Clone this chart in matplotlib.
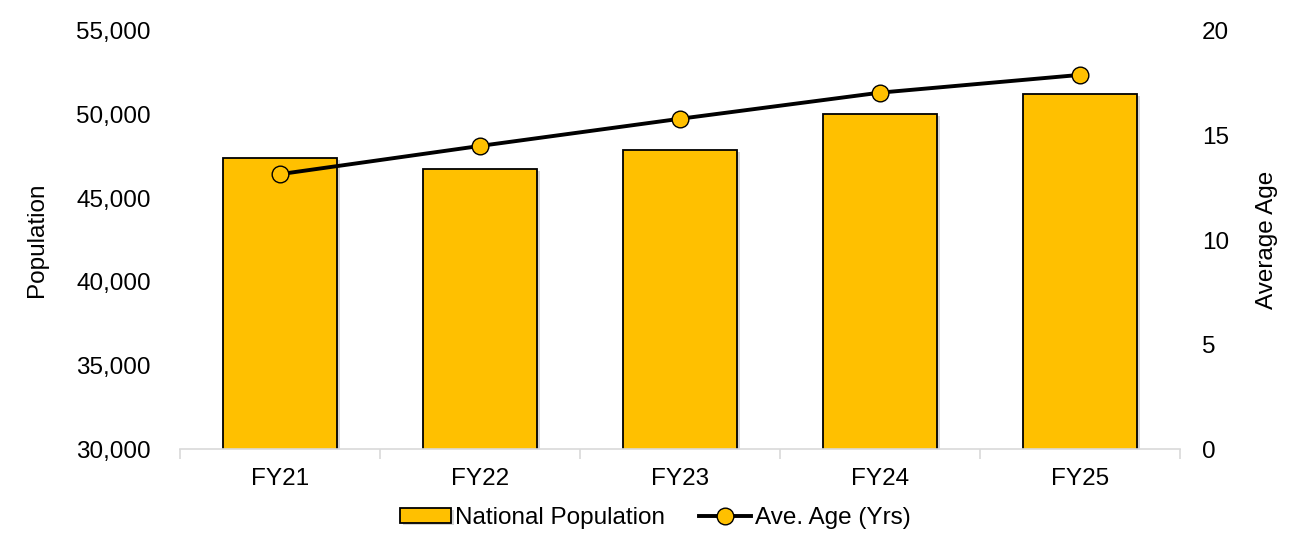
import matplotlib
matplotlib.use("Agg")
import matplotlib.pyplot as plt
import matplotlib.patheffects as pe
from matplotlib.ticker import FuncFormatter, FixedLocator
import numpy as np

plt.rcParams['font.family'] = ['Liberation Sans', 'DejaVu Sans']

# data
categories = ['FY21', 'FY22', 'FY23', 'FY24', 'FY25']
population = [47400, 46750, 47880, 50040, 51230]
avg_age = [13.15, 14.5, 15.8, 17.05, 17.9]

bar_color = '#FFC000'
fs = 17.5

fig = plt.figure(figsize=(12.9, 5.38), dpi=100)
ax = fig.add_axes([0.1395, 0.1654, 0.7752, 0.777])
x = np.arange(len(categories))

bars = ax.bar(x, population, width=0.57, color=bar_color, edgecolor='black',
              linewidth=1.3, label='National Population', zorder=2)
for b in bars:
    b.set_path_effects([pe.SimplePatchShadow(offset=(2.5, -1.5), shadow_rgbFace='#888888', alpha=0.35),
                        pe.Normal()])

ax.set_xlim(-0.5, len(categories) - 0.5)
ax.set_ylim(30000, 55000)
ax.set_yticks([30000, 35000, 40000, 45000, 50000, 55000])
ax.yaxis.set_major_formatter(FuncFormatter(lambda v, p: f'{int(v):,}'))
ax.set_xticks(x)
ax.set_xticklabels(categories)
ax.xaxis.set_minor_locator(FixedLocator(np.arange(-0.5, len(categories), 1.0)))
ax.tick_params(axis='x', which='major', length=0, pad=14, labelsize=fs)
ax.tick_params(axis='x', which='minor', length=7, width=1.2, color='#D9D9D9')
ax.tick_params(axis='y', length=0, pad=21, labelsize=fs)
for s in ['top', 'right', 'left']:
    ax.spines[s].set_visible(False)
ax.spines['bottom'].set_color('#D9D9D9')
ax.spines['bottom'].set_linewidth(1.2)
ax.set_ylabel('Population', fontsize=fs, labelpad=20)

ax2 = ax.twinx()
ax2.plot(x, avg_age, color='black', linewidth=2.8, marker='o', markersize=12,
         markerfacecolor=bar_color, markeredgecolor='black', markeredgewidth=1.0,
         label='Ave. Age (Yrs)', zorder=3)
ax2.set_ylim(0, 20)
ax2.set_yticks([0, 5, 10, 15, 20])
ax2.tick_params(axis='y', length=0, pad=16, labelsize=fs)
for s in ['top', 'right', 'left', 'bottom']:
    ax2.spines[s].set_visible(False)
ax2.set_ylabel('Average Age', fontsize=fs, labelpad=19)

h1, l1 = ax.get_legend_handles_labels()
h2, l2 = ax2.get_legend_handles_labels()
fig.legend(h1 + h2, l1 + l2, loc='center', bbox_to_anchor=(0.508, 0.037),
           ncol=2, frameon=False, fontsize=fs, handlelength=2.1, handleheight=0.55,
           handletextpad=0.2, columnspacing=1.4, borderpad=0.1)

fig.savefig('out.png', dpi=100)
